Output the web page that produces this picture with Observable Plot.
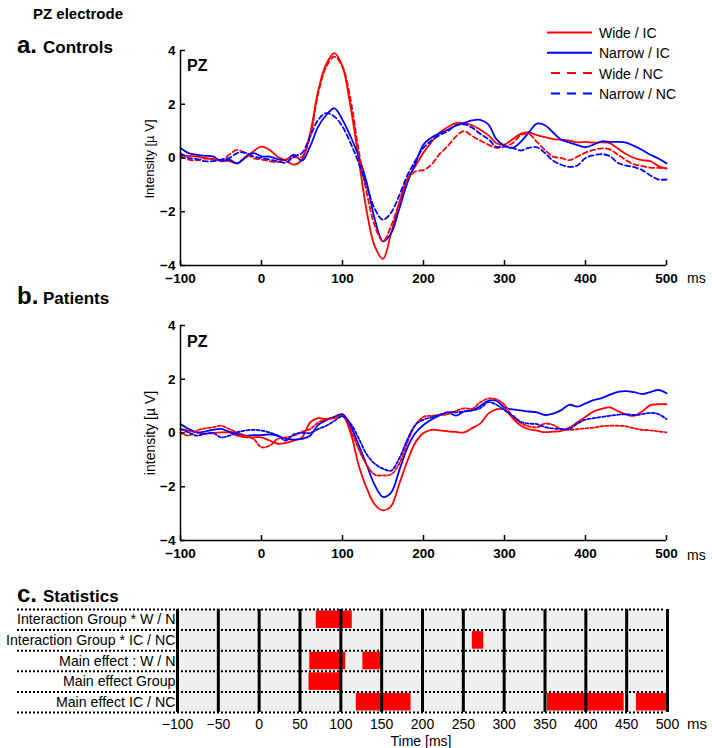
<!DOCTYPE html>
<html><head><meta charset="utf-8">
<script src="https://cdn.jsdelivr.net/npm/d3@7"></script>
<script src="https://cdn.jsdelivr.net/npm/@observablehq/plot@0.6"></script>
<style>
body{margin:0;background:#fff;}
#wrap{position:relative;width:712px;height:748px;overflow:hidden;font-family:"Liberation Sans",Arial,sans-serif;}
#wrap > svg{position:absolute;left:0;}
</style></head><body><div id="wrap"></div>
<script>
// ---------- data ----------
const time = [-100,-90,-80,-70,-60,-50,-40,-30,-20,-10,0,10,20,30,40,50,60,70,80,90,100,110,120,130,140,150,160,170,180,190,200,210,220,230,240,250,260,270,280,290,300,310,320,330,340,350,360,370,380,390,400,410,420,430,440,450,460,470,480,490,500];

const controlsWideIC = [0.12,0.08,0.05,0.0,-0.05,-0.08,-0.12,-0.2,0.0,0.25, 0.42,0.3,0.05,-0.1,-0.25,-0.05,0.9,2.5,3.5,3.9, 3.4,1.9,-0.05,-2.0,-3.3,-3.75,-2.8,-1.7,-0.8,-0.3, 0.2,0.6,0.95,1.15,1.3,1.3,1.22,1.05,0.85,0.55, 0.5,0.7,0.9,0.95,0.85,0.78,0.7,0.68,0.65,0.58, 0.6,0.57,0.58,0.55,0.35,0.15,0.0,-0.08,-0.12,-0.3, -0.4];
const controlsNarrowIC = [0.37,0.18,0.12,0.08,0.06,-0.12,-0.06,-0.2,0.04,0.18, 0.06,0.05,-0.04,-0.08,0.12,-0.1,0.43,1.17,1.6,1.85, 1.42,0.8,0.06,-0.93,-2.3,-3.1,-2.8,-1.9,-0.93,-0.2, 0.5,0.76,0.92,1.05,1.2,1.3,1.4,1.42,1.25,0.7, 0.45,0.38,0.6,0.95,1.28,1.22,0.95,0.68,0.58,0.48, 0.4,0.5,0.62,0.6,0.6,0.57,0.45,0.3,0.12,-0.02, -0.2];
const controlsWideNC = [0.06,-0.06,-0.09,-0.02,-0.04,-0.09,0.12,0.3,0.18,0.0, -0.06,-0.12,-0.16,-0.05,0.02,0.05,0.8,2.4,3.4,3.77, 3.4,2.16,0.26,-1.3,-2.53,-3.1,-2.53,-1.67,-0.8,-0.5, -0.45,-0.24,0.15,0.45,0.8,1.0,0.82,0.65,0.5,0.38, 0.42,0.55,0.85,0.9,0.6,0.3,0.05,0.0,-0.08,0.05, 0.2,0.3,0.36,0.32,0.12,-0.08,-0.24,-0.3,-0.36,-0.37, -0.38];
const controlsNarrowNC = [0.18,0.0,-0.04,-0.12,-0.12,-0.06,0.0,0.18,0.2,0.06, 0.0,-0.06,-0.12,-0.18,0.06,0.18,0.8,1.42,1.67,1.54, 1.17,0.55,-0.18,-1.05,-1.9,-2.3,-2.03,-1.4,-0.65,-0.1, 0.38,0.65,0.85,1.0,1.22,1.25,1.13,0.9,0.7,0.42, 0.43,0.38,0.28,0.38,0.4,0.18,-0.1,-0.25,-0.33,-0.28, 0.0,0.1,0.14,0.07,-0.18,-0.28,-0.34,-0.45,-0.65,-0.8, -0.8];

const patientsWideIC = [0.15,0.09,0.03,-0.03,0.0,0.02,0.02,-0.1,-0.16,-0.16, -0.16,-0.28,-0.4,-0.37,-0.28,-0.16,0.39,0.55,0.52,0.58, 0.65,0.0,-1.2,-2.06,-2.67,-2.88,-2.72,-1.9,-1.05,-0.35, 0.0,0.12,0.1,0.06,0.04,0.02,0.18,0.35,0.72,0.88, 0.88,0.55,0.28,0.14,0.09,0.03,0.05,0.08,0.2,0.4, 0.6,0.8,0.9,0.95,0.82,0.68,0.64,0.8,1.04,1.07, 1.07];
const patientsNarrowIC = [0.33,0.15,0.02,0.05,0.12,0.15,0.05,-0.03,-0.1,-0.08, -0.08,-0.05,-0.1,-0.22,-0.25,-0.22,-0.1,0.3,0.48,0.6, 0.7,0.25,-0.45,-1.2,-1.95,-2.38,-2.22,-1.4,-0.55,0.0, 0.3,0.5,0.65,0.77,0.65,0.8,0.85,1.0,1.2,1.2, 0.95,0.88,0.84,0.8,0.77,0.67,0.72,0.85,1.05,0.98, 1.1,1.22,1.3,1.42,1.53,1.56,1.52,1.45,1.52,1.6, 1.48];
const patientsWideNC = [0.02,-0.1,0.09,0.17,0.21,0.27,0.15,0.02,-0.1,-0.22, -0.53,-0.47,-0.22,-0.16,-0.1,0.05,0.15,0.39,0.52,0.55, 0.64,0.1,-0.6,-1.2,-1.55,-1.58,-1.54,-1.15,-0.35,0.3, 0.6,0.64,0.67,0.7,0.82,0.92,0.9,1.14,1.28,1.25, 1.05,0.6,0.38,0.25,0.21,0.35,0.3,0.15,0.12,0.14, 0.17,0.2,0.25,0.27,0.27,0.25,0.17,0.12,0.1,0.06, 0.02];
const patientsNarrowNC = [0.15,0.02,-0.1,-0.03,0.0,-0.16,-0.1,0.02,0.09,0.12, 0.09,0.02,-0.1,-0.28,-0.05,0.0,0.0,0.15,0.27,0.45, 0.62,0.35,-0.2,-0.8,-1.15,-1.33,-1.4,-0.95,-0.25,0.3, 0.5,0.58,0.68,0.77,0.77,0.8,0.84,0.92,1.15,1.05, 0.85,0.65,0.42,0.35,0.33,0.22,0.17,0.15,0.15,0.35, 0.5,0.55,0.6,0.64,0.68,0.7,0.67,0.7,0.75,0.7, 0.52];

const legendLabels = ["Wide / IC", "Narrow / IC", "Wide / NC", "Narrow / NC"];
const seriesColors = ["#ff0000", "#0000ff", "#ff0000", "#0000ff"];
const seriesDashed = [false, false, true, true];

const erpXTicks = [-100, 0, 100, 200, 300, 400, 500];
const erpYTicks = [-4, -2, 0, 2, 4];

const statRows = ["Interaction Group * W / N", "Interaction Group * IC / NC", "Main effect : W / N", "Main effect Group", "Main effect IC / NC"];
const statRowIndex = [0, 1, 2, 2, 3, 4, 4, 4];
const statStart   = [70, 261, 62, 127, 61, 119, 353, 462];
const statEnd     = [114, 275, 106, 151, 102, 186, 447, 500];
const statXTicks = [-100, -50, 0, 50, 100, 150, 200, 250, 300, 350, 400, 450, 500];

// ---------- drawing ----------
const FONT = "'Liberation Sans', Arial, sans-serif";
const wrap = document.getElementById("wrap");

function erpPlot(series, top, dash) {
  const svg = Plot.plot({
    width: 712, height: 257,
    marginLeft: 180, marginRight: 46, marginTop: 10, marginBottom: 32,
    style: {fontFamily: FONT, fontSize: "13.5px", fontWeight: "bold", color: "#000", background: "transparent", overflow: "visible"},
    x: {domain: [erpXTicks[0], erpXTicks[erpXTicks.length - 1]]},
    y: {domain: [erpYTicks[0], erpYTicks[erpYTicks.length - 1]]},
    marks: [
      ...series.map((s, k) => Plot.line(time.map((t, i) => ({t, v: s[i]})), {
        x: "t", y: "v", stroke: seriesColors[k], strokeWidth: 1.8,
        strokeDasharray: seriesDashed[k] ? dash : null, curve: "catmull-rom"
      })),
      Plot.ruleX([erpXTicks[0]], {stroke: "#000", strokeWidth: 1.5}),
      Plot.ruleY([erpYTicks[0]], {stroke: "#000", strokeWidth: 1.5}),
      Plot.axisX({ticks: erpXTicks, tickSize: -5, tickPadding: 13, label: null, strokeWidth: 1.5}),
      Plot.axisY({ticks: erpYTicks, tickSize: -5, tickPadding: 10, label: null, strokeWidth: 1.5})
    ]
  });
  svg.style.top = top + "px";
  wrap.appendChild(svg);
}

erpPlot([controlsWideIC, controlsNarrowIC, controlsWideNC, controlsNarrowNC], 40, "5,3");
erpPlot([patientsWideIC, patientsNarrowIC, patientsWideNC, patientsNarrowNC], 315, "3,2");

// statistics panel
const statData = statRowIndex.map((r, i) => ({row: r, start: statStart[i], end: statEnd[i]}));
const statSvg = Plot.plot({
  width: 712, height: 148,
  marginLeft: 177, marginRight: 45, marginTop: 9, marginBottom: 36,
  style: {fontFamily: FONT, fontSize: "14px", color: "#000", background: "transparent", overflow: "visible"},
  x: {domain: [statXTicks[0], statXTicks[statXTicks.length - 1]]},
  y: {domain: [0, statRows.length], reverse: true, axis: null},
  marks: [
    Plot.frame({fill: "#efefef", stroke: null}),
    Plot.rect(statData, {x1: "start", x2: "end", y1: "row", y2: d => d.row + 1, fill: "#ff0000", insetTop: 1.5, insetBottom: 1.5}),
    Plot.ruleY(d3.range(statRows.length + 1), {stroke: "#000", strokeWidth: 2, strokeDasharray: "2,2", insetLeft: -160, insetRight: 4}),
    Plot.ruleX(statXTicks, {stroke: "#000", strokeWidth: 3}),
    Plot.text(statRows, {frameAnchor: "left", y: (d, i) => i + 0.5, text: d => d, textAnchor: "end", dx: -2, fontSize: 14.2}),
    Plot.axisX({ticks: statXTicks, tickSize: 0, tickPadding: 7, label: null})
  ]
});
statSvg.style.top = "600px";
wrap.appendChild(statSvg);

// overlay text and legend
const ov = d3.select(wrap).append("svg")
  .attr("width", 712).attr("height", 748)
  .style("position", "absolute").style("left", "0px").style("top", "0px")
  .style("font-family", FONT).style("pointer-events", "none");

function txt(x, y, s, size, weight, anchor) {
  return ov.append("text").attr("x", x).attr("y", y).attr("font-size", size)
    .attr("font-weight", weight || "normal").attr("text-anchor", anchor || "start").attr("fill", "#000").text(s);
}
txt(33, 19, "PZ electrode", 15, "bold");
txt(17, 53, "a.", 24, "bold"); txt(43, 53, "Controls", 17, "bold");
txt(17, 304, "b.", 24, "bold"); txt(43, 304, "Patients", 17, "bold");
txt(17, 602, "c.", 24, "bold"); txt(43, 602, "Statistics", 17, "bold");

txt(187, 70.5, "PZ", 16, "bold");
txt(187, 346.5, "PZ", 16, "bold");
txt(687, 283, "ms", 14);
txt(687, 560, "ms", 14);
txt(687, 729, "ms", 15);
txt(421, 746, "Time [ms]", 14, "normal", "middle");

ov.append("text").attr("transform", "translate(154,159) rotate(-90)").attr("text-anchor", "middle")
  .attr("font-size", 13).attr("fill", "#000").text("Intensity [µ V]");
ov.append("text").attr("transform", "translate(155,433) rotate(-90)").attr("text-anchor", "middle")
  .attr("font-size", 14).attr("fill", "#000").text("intensity [µ V]");

legendLabels.forEach((lab, i) => {
  const y = 32.5 + i * 20.3;
  ov.append("line").attr("x1", seriesDashed[i] ? 551 : 547).attr("x2", 592).attr("y1", y).attr("y2", y)
    .attr("stroke", seriesColors[i]).attr("stroke-width", 2)
    .attr("stroke-dasharray", seriesDashed[i] ? "9,7" : null);
  txt(599, y + 5.5, lab, 14);
});
</script></body></html>
